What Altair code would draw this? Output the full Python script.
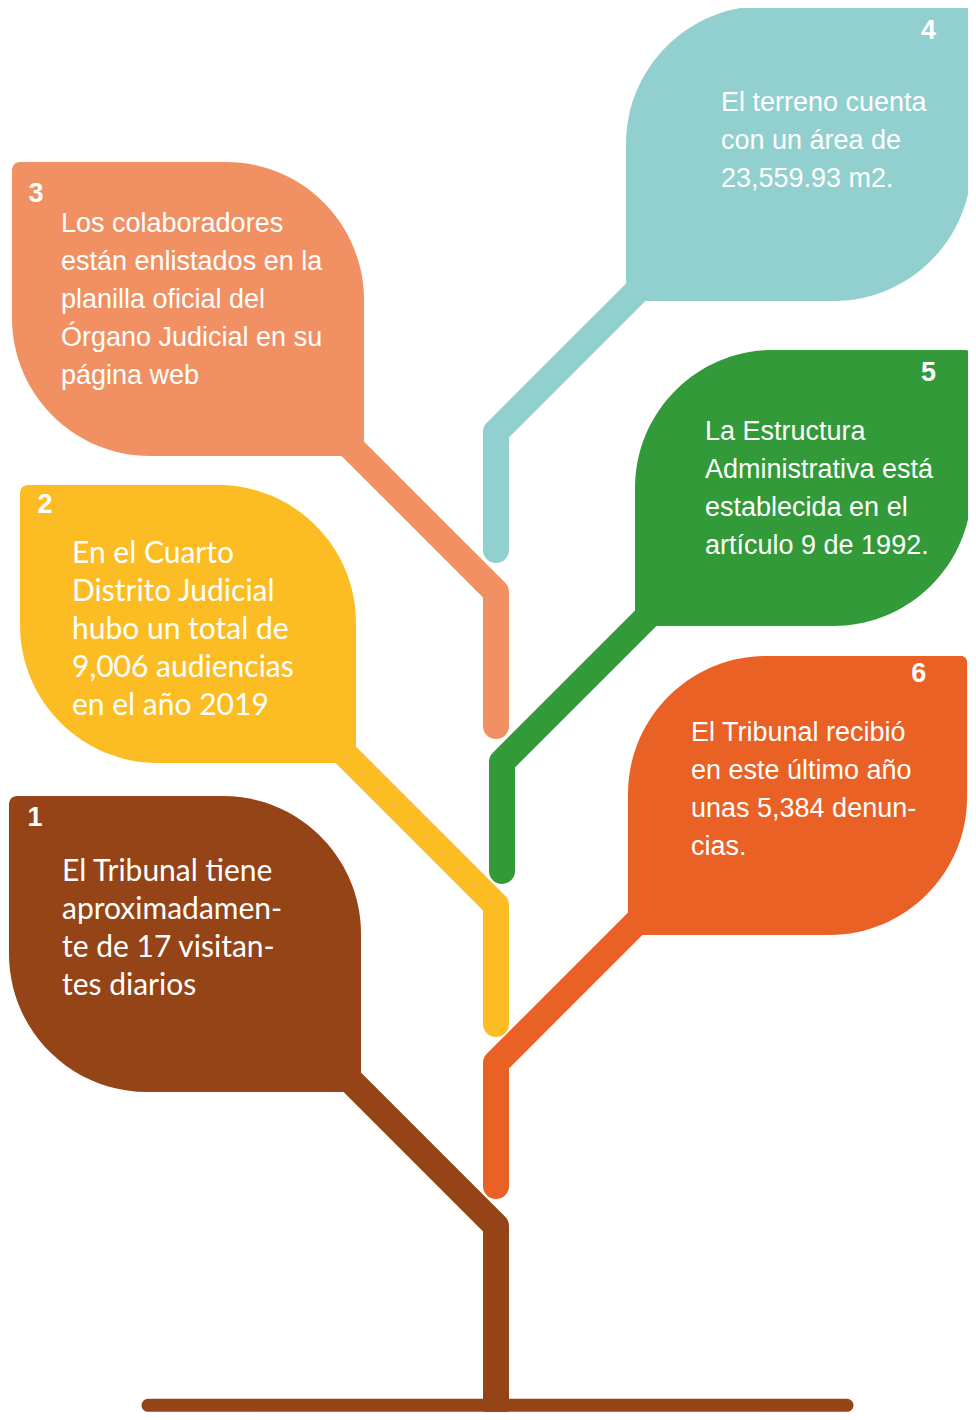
import altair as alt
import pandas as pd

# ---------------- data ----------------
leaf_ids = [1, 2, 3, 4, 5, 6]
leaf_colors = ["#954417", "#fcbd24", "#f19163", "#92cfcf", "#339a3a", "#ea6125"]
leaf_side = ["left", "left", "left", "right", "right", "right"]
leaf_left = [9, 20, 12, 626, 635, 628]
leaf_right = [361, 356, 364, 980, 980, 975]
leaf_top = [796, 485, 162, 6, 350, 656]
leaf_bottom = [1092, 763, 456, 301, 626, 935]

leaf_texts = [
    ["El Tribunal tiene", "aproximadamen-", "te de 17 visitan-", "tes diarios"],
    ["En el Cuarto", "Distrito Judicial", "hubo un total de", "9,006 audiencias", "en el año 2019"],
    ["Los colaboradores", "están enlistados en la", "planilla oficial del", "Órgano Judicial en su", "página web"],
    ["El terreno cuenta", "con un área de", "23,559.93 m2."],
    ["La Estructura", "Administrativa está", "establecida en el", "artículo 9 de 1992."],
    ["El Tribunal recibió", "en este último año", "unas 5,384 denun-", "cias."],
]
text_left = [62, 72, 61, 721, 705, 691]
text_first_baseline = [881, 563, 232, 111, 440, 741]
text_font_group = ["humanist", "humanist", "condensed", "condensed", "condensed", "condensed"]
line_pitch = 38

number_labels = ["1", "2", "3", "4", "5", "6"]
number_x = [35, 45, 36, 932, 932, 921]
number_y = [826, 513, 202, 39, 381, 682]

# stem polylines: leaf corner (hidden inside leaf) -> bend -> tip
stem_x = [
    [330, 496, 496],
    [330, 496, 496],
    [330, 496, 496],
    [660, 496, 496],
    [670, 502, 502],
    [660, 496, 496],
]
stem_y = [
    [1060, 1226, 1414],
    [739, 905, 1024],
    [426, 592, 726],
    [268, 432, 550],
    [594, 762, 871],
    [899, 1063, 1186],
]

ground_x = [148, 847]
ground_y = [1413]
ground_color = "#954417"

# ---------------- tables ----------------
leaves = pd.DataFrame({
    "id": leaf_ids, "color": leaf_colors, "side": leaf_side,
    "x0": leaf_left, "x1": leaf_right, "y0": leaf_top, "y1": leaf_bottom,
})

rows = []
for lid, lines, tx, ty, grp in zip(leaf_ids, leaf_texts, text_left, text_first_baseline, text_font_group):
    for i, t in enumerate(lines):
        rows.append({"leaf": lid, "text": t, "x": tx, "y": ty + i * line_pitch, "grp": grp})
texts = pd.DataFrame(rows)

numbers = pd.DataFrame({"label": number_labels, "x": number_x, "y": number_y})

srows = []
for lid, col, xs_, ys_ in zip(leaf_ids, leaf_colors, stem_x, stem_y):
    for i, (a, b) in enumerate(zip(xs_, ys_)):
        srows.append({"stem": lid, "color": col, "i": i, "x": a, "y": b})
stems = pd.DataFrame(srows)

ground = pd.DataFrame({"x": [ground_x[0]], "x2": [ground_x[1]], "y": ground_y})

# ---------------- scales ----------------
XS = alt.Scale(domain=[8, 900, 976], range=[0, 892, 960], nice=False, zero=False)
YS = alt.Scale(domain=[8, 1230, 1420], range=[0, 1222, 1404], nice=False, zero=False)

def X(f):
    return alt.X(f, type="quantitative", scale=XS, axis=None)

def Y(f):
    return alt.Y(f, type="quantitative", scale=YS, axis=None)

ground_layer = alt.Chart(ground).mark_rule(
    strokeWidth=13, strokeCap="round", color=ground_color
).encode(x=X("x"), x2="x2", y=Y("y"))

stem_layer = alt.Chart(stems).mark_line(
    strokeWidth=26, strokeCap="round", strokeJoin="round", clip=True
).encode(
    x=X("x"), y=Y("y"),
    color=alt.Color("color:N", scale=None),
    detail="stem:N", order="i:Q",
)

left_leaves = alt.Chart(leaves).transform_filter(alt.datum.side == "left").mark_rect(
    cornerRadiusTopLeft=8, cornerRadiusTopRight=138,
    cornerRadiusBottomLeft=138, cornerRadiusBottomRight=0, clip=True
).encode(
    x=X("x0"), x2="x1", y=Y("y0"), y2="y1",
    color=alt.Color("color:N", scale=None),
)

right_leaves = alt.Chart(leaves).transform_filter(alt.datum.side == "right").mark_rect(
    cornerRadiusTopLeft=138, cornerRadiusTopRight=6,
    cornerRadiusBottomLeft=0, cornerRadiusBottomRight=138, clip=True
).encode(
    x=X("x0"), x2="x1", y=Y("y0"), y2="y1",
    color=alt.Color("color:N", scale=None),
)

cond_text = alt.Chart(texts).transform_filter(alt.datum.grp == "condensed").mark_text(
    align="left", baseline="alphabetic", color="white", fontSize=27,
    font="Liberation Sans",
).encode(x=X("x"), y=Y("y"), text="text:N")

human_text = alt.Chart(texts).transform_filter(alt.datum.grp == "humanist").mark_text(
    align="left", baseline="alphabetic", color="white", fontSize=30, font="Lato",
).encode(x=X("x"), y=Y("y"), text="text:N")

num_layer = alt.Chart(numbers).mark_text(
    align="center", baseline="alphabetic", color="white", fontSize=27,
    fontWeight="bold", font="Liberation Sans",
).encode(x=X("x"), y=Y("y"), text="label:N")

chart = alt.layer(
    ground_layer, stem_layer, left_leaves, right_leaves, cond_text, human_text, num_layer
).properties(
    width=960, height=1404,
    autosize=alt.AutoSizeParams(type="none"),
    padding=0,
    background="white",
).configure_view(stroke=None)

chart.save("out.html", embed_options={"renderer": "svg", "actions": False})
